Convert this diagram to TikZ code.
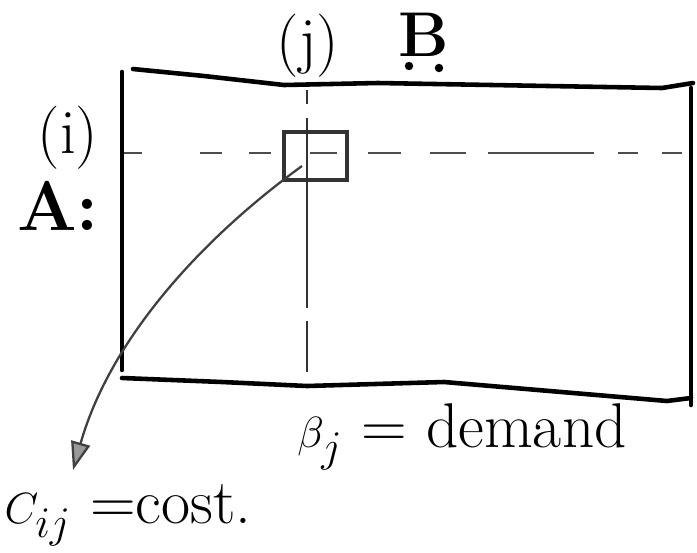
\documentclass[tikz,border=0pt]{standalone}
\usepackage{amsmath}
\usepackage{amssymb}
\usetikzlibrary{arrows.meta}
\tikzstyle{edgeline} = [line width=2.6pt, black, line cap=round, line join=round]
\tikzstyle{coldash} = [line width=1.5pt, black!80, dash pattern=on 8pt off 8pt on 108pt off 7.5pt on 29.5pt off 40pt]
\tikzstyle{rowdash} = [line width=1.4pt, black!70, dash pattern=on 10.2pt off 32.9pt on 12.5pt off 15.3pt on 12.5pt off 22.7pt on 15.3pt off 17.6pt on 18.7pt off 16.4pt on 20.4pt off 12.5pt on 60.7pt off 13.6pt on 11.3pt off 13.6pt on 11.3pt off 40pt]
\tikzstyle{entrycell} = [rectangle, draw=black!80, line width=2pt, minimum width=1.26cm, minimum height=0.96cm, inner sep=0pt]
\tikzstyle{hand} = [font=\fontsize{36}{40}\selectfont, inner sep=1pt]
\tikzstyle{costarrow} = [line width=1.3pt, black!75, -{Triangle[length=16pt,width=11pt,fill=black!40]}]

\begin{document}
\begin{tikzpicture}[x=0.02cm, y=-0.02cm]
\useasboundingbox (0,0) rectangle (697,552);
% Matrix outline, edges as sketched (not quite straight)
\draw[edgeline] (133,69) -- (204,76) -- (284,85) -- (378,83) -- (662,88) -- (693,83);
\draw[edgeline] (122,72) -- (122,370);
\draw[edgeline] (122,378) -- (222,382) -- (307,386) -- (444,382) -- (667,401) -- (691,398);
\draw[edgeline] (691,88) -- (691,405);
% Column j and row i
\draw[coldash] (307,90) -- (307,372);
\draw[rowdash] (124,153) -- (686,153);
% Entry (i,j)
\node[entrycell] (cell) at (315.5,156) {};
% Labels of the index lines and matrices
\node[hand] (colj) at (308,46) {(j)};
\node[hand] (bmat) at (424,35) {\textbf{B}};
% two dots under B
\fill (409,66) circle (2.4pt);
\fill (439,68) circle (2.4pt);
\node[hand] (rowi) at (68,138) {(i)};
\node[hand, font=\fontsize{40}{44}\selectfont] (amat) at (58,206) {\textbf{A:}};
% Demand of column j
\node[hand] (demand) at (462,437) {$\beta_j$ = demand};
% Cost of entry (i,j)
\node[hand] (cost) at (128,515) {$C_{ij}$ =cost.};
\coordinate (cellpt) at (302,166);
\coordinate (costtip) at (73,470);
\draw[costarrow] (cellpt) .. controls (200,240) and (110,340) .. (costtip);
\end{tikzpicture}
\end{document}
